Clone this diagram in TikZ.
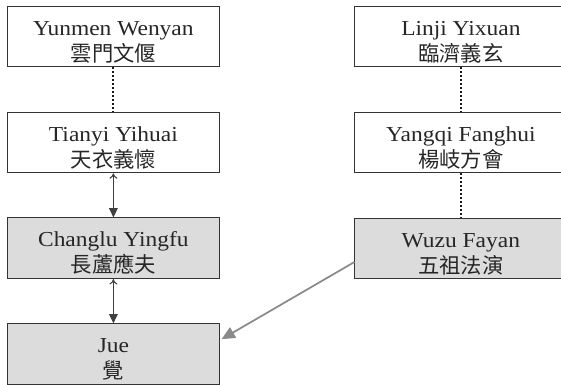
\documentclass[tikz,border=0pt]{standalone}
\usepackage{fontspec}
\setmainfont[FakeStretch=1.1]{Liberation Serif}
\newfontfamily\cjk{Noto Sans CJK TC}
\usetikzlibrary{arrows.meta,calc}
\definecolor{boxline}{HTML}{333333}
\definecolor{boxfill}{HTML}{DCDCDC}
\definecolor{linkgray}{HTML}{8A8A8A}
\newcommand{\upstrut}{\rule{0pt}{18.8pt}}
\tikzset{
  person/.style={draw=boxline, line width=0.75pt, rectangle, minimum width=158.9pt,
    minimum height=45.5pt, inner sep=0pt, align=center,
    font=\fontsize{16}{19.5}\selectfont, text=black!85},
  shaded/.style={person, fill=boxfill},
  lineage/.style={draw=black!90, line width=1.5pt, dash pattern=on 1.5pt off 1.5pt},
  twoway/.style={draw=black!75, line width=0.8pt,
    {To[length=4pt,width=6pt]}-{Triangle[length=7pt,width=6.5pt]}},
  transmit/.style={draw=linkgray, line width=1.3pt, -{Triangle[length=10pt,width=9pt]}, shorten >=1.5pt}
}
\begin{document}
\begin{tikzpicture}[x=0.75pt,y=-0.75pt]
\useasboundingbox (0,0) rectangle (561,385);
\begin{scope}
\clip (0,0) rectangle (561,385);
\node[person] (yunmen) at (113.4,36.4) {\upstrut Yunmen Wenyan\\{\cjk 雲門文偃}};
\node[person] (tianyi) at (113.4,142.5) {\upstrut Tianyi Yihuai\\{\cjk 天衣義懷}};
\node[shaded] (changlu) at (113.4,248.3) {\upstrut Changlu Yingfu\\{\cjk 長蘆應夫}};
\node[shaded] (jue) at (113.4,354.2) {\upstrut Jue\\{\cjk 覺}};
\node[person] (linji) at (460.9,36.4) {\upstrut Linji Yixuan\\{\cjk 臨濟義玄}};
\node[person] (yangqi) at (460.9,142.5) {\upstrut Yangqi Fanghui\\{\cjk 楊岐方會}};
\node[shaded] (wuzu) at (460.9,248.5) {\upstrut Wuzu Fayan\\{\cjk 五祖法演}};
\draw[lineage] (yunmen) -- (tianyi);
\draw[lineage] (linji) -- (yangqi);
\draw[lineage] (yangqi) -- (wuzu);
\draw[twoway] (tianyi) -- (changlu);
\draw[twoway] (changlu) -- (jue);
\draw[transmit] ($(wuzu.west)+(0,13.5)$) -- ($(jue.east)+(0,-14)$);
\end{scope}
\end{tikzpicture}
\end{document}
